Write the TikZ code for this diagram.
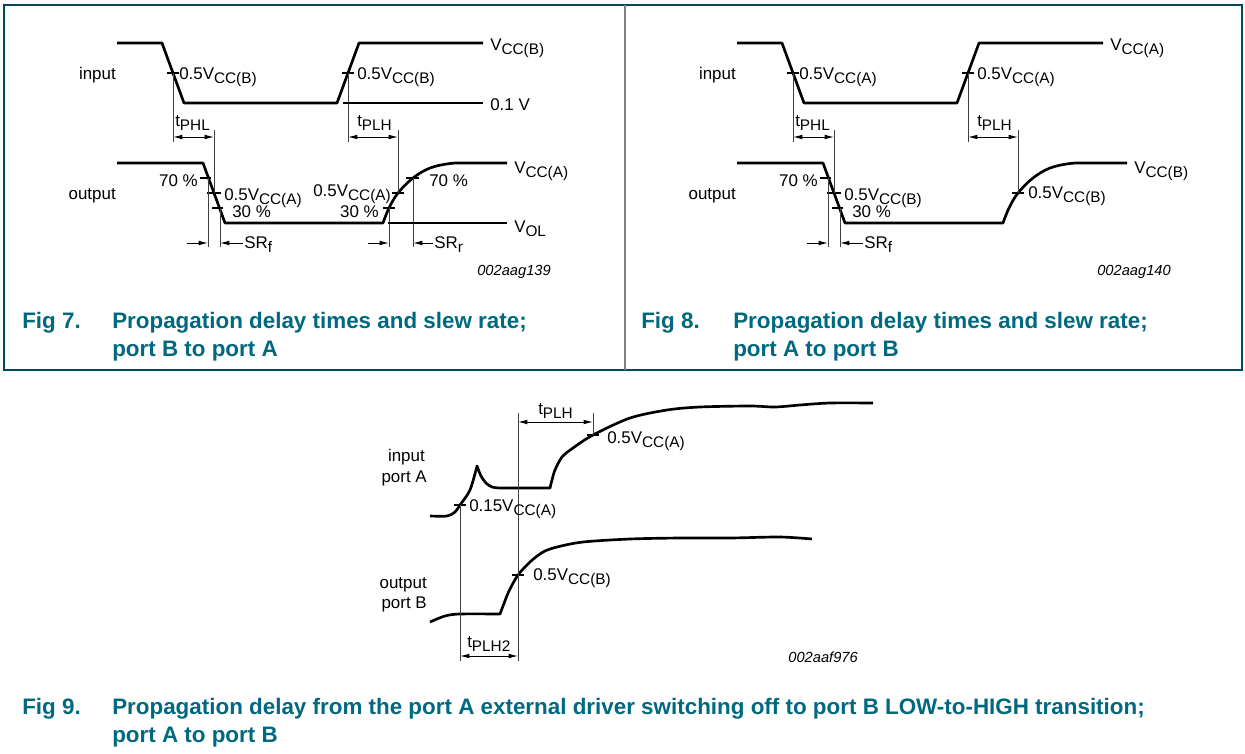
\documentclass[tikz,border=0pt]{standalone}
\usepackage{fontspec}
\setmainfont{Liberation Sans}
\usetikzlibrary{arrows.meta}
\definecolor{figteal}{HTML}{00697F}
\newcommand{\ssub}[2]{#1\raisebox{-3.2pt}{\fontsize{11.5}{12}\selectfont #2}}
\tikzset{
  wave/.style={line width=2pt,line join=round},
  refline/.style={line width=0.8pt},
  guide/.style={line width=0.7pt,black!75},
  dim/.style={line width=0.7pt},
  lbl/.style={inner sep=0pt,font=\fontsize{12.7}{15}\selectfont},
  figcode/.style={inner sep=0pt,font=\fontsize{11}{13}\selectfont\itshape},
  capt/.style={inner sep=0pt,text=figteal,font=\fontsize{16.8}{21}\selectfont\bfseries},
}

\begin{document}
\begin{tikzpicture}[x=0.75pt,y=-0.75pt,>={Latex[length=7pt,width=3.5pt]}]
  \useasboundingbox (0,0) rectangle (1245,753);
  % frames round fig 7 and fig 8
  \draw[figteal!70!black,line width=1.2pt] (4,5) rectangle (1242,370);
  \draw[gray,line width=0.8pt] (625,5) -- (625,370);

  % fig 7 and fig 8: same timing, swapped supplies
  \foreach \dx/\ia/\oa/\code in {0/B/A/002aag139,620/A/B/002aag140}{
  \begin{scope}[shift={(\dx,0)}]
    \draw[wave] (117,43) -- (162,43) -- (184,103) -- (337,103) -- (359,43) -- (483,43);
    \draw[wave] (117,163) -- (203,163) -- (225,223)
      -- plot[smooth,tension=0.6] coordinates {(383,223) (389,208) (398,193) (413,178) (430,168) (450,163.5) (465,163)}
      -- (507,163);
    % level ticks
    \draw[refline] (167,73) -- (179,73) (342,73) -- (354,73);
    \draw[refline] (200,178) -- (211,178) (207,193) -- (221,193) (212,208) -- (223,208);
    \draw[refline] (392,193) -- (404,193);
    % guides
    \draw[guide] (173,73) -- (173,142) (214,130) -- (214,193);
    \draw[guide] (348,73) -- (348,142) (398,130) -- (398,193);
    \draw[guide] (208,178) -- (208,247) (220,208) -- (220,247);
    \coordinate (phla\dx) at (173,137);
    \coordinate (phlb\dx) at (214,137);
    \coordinate (plha\dx) at (348,137);
    \coordinate (plhb\dx) at (398,137);
    \coordinate (srfa\dx) at (187,243);
    \coordinate (srfb\dx) at (208,243);
    \coordinate (srfc\dx) at (243,243);
    \coordinate (srfd\dx) at (220,243);
    \draw[dim,<->] (phla\dx) -- (phlb\dx);
    \draw[dim,<->] (plha\dx) -- (plhb\dx);
    \draw[dim,->] (srfa\dx) -- (srfb\dx);
    \draw[dim,->] (srfc\dx) -- (srfd\dx);
    % labels
    \node[lbl,anchor=base east] (in\dx) at (116,79) {input};
    \node[lbl,anchor=base east] (out\dx) at (116,199) {output};
    \node[lbl,anchor=base west] (infall\dx) at (179,79) {\ssub{0.5V}{CC(\ia)}};
    \node[lbl,anchor=base west] (inrise\dx) at (357,79) {\ssub{0.5V}{CC(\ia)}};
    \node[lbl,anchor=base west] (vin\dx) at (490,50) {\ssub{V}{CC(\ia)}};
    \node[lbl,anchor=base west] (tphl\dx) at (175,126) {\ssub{t}{PHL}};
    \node[lbl,anchor=base west] (tplh\dx) at (357,126) {\ssub{t}{PLH}};
    \node[lbl,anchor=base east] (fallhi\dx) at (198,186) {70 \%};
    \node[lbl,anchor=base west] (outfall\dx) at (224,200) {\ssub{0.5V}{CC(\oa)}};
    \node[lbl,anchor=base west] (falllo\dx) at (232,217) {30 \%};
    \node[lbl,anchor=base west] (srf\dx) at (244,248) {\ssub{SR}{f}};
    \node[lbl,anchor=base west] (vout\dx) at (514,173) {\ssub{V}{CC(\oa)}};
    \node[figcode,anchor=base east] (code\dx) at (551,275) {\code};
  \end{scope}
  }

  % fig 7 only: rising edge slew rate and reference levels
  \draw[refline] (383,208) -- (395,208) (406,178) -- (419,178);
  \draw[guide] (389,208) -- (389,247) (413,178) -- (413,247);
  \coordinate (srra) at (368,243);
  \coordinate (srrb) at (389,243);
  \coordinate (srrc) at (433,243);
  \coordinate (srrd) at (413,243);
  \draw[dim,->] (srra) -- (srrb);
  \draw[dim,->] (srrc) -- (srrd);
  \draw[refline] (343,103) -- (483,103);
  \draw[refline] (388,223) -- (507,223);
  \node[lbl,anchor=base west] (srr) at (434,248) {\ssub{SR}{r}};
  \node[lbl,anchor=base east] (outrise) at (391,196) {\ssub{0.5V}{CC(A)}};
  \node[lbl,anchor=base east] (riselo) at (379,217) {30 \%};
  \node[lbl,anchor=base west] (risehi) at (429,186) {70 \%};
  \node[lbl,anchor=base west] (lowin) at (490,110) {0.1 V};
  \node[lbl,anchor=base west] (vol) at (514,232) {\ssub{V}{OL}};

  % fig 8 only
  \node[lbl,anchor=base west] (outrise8) at (1028,198) {\ssub{0.5V}{CC(B)}};

  % fig 9
  \draw[wave] plot[smooth,tension=0.5] coordinates {(430,516) (447,516) (455,512) (460,505) (470,490) (477,466)}
    -- plot[smooth,tension=0.5] coordinates {(477,466) (481,476) (486,483) (492,487) (500,488)}
    -- (550,488)
    -- plot[smooth,tension=0.5] coordinates {(550,488) (552,480) (555,470) (562,457) (573,448) (593,435) (630,418)
       (667,410) (700,407) (750,406) (775,407) (800,405) (830,403) (873,403)};
  \draw[wave] plot[smooth,tension=0.5] coordinates {(430,622) (445,616) (460,614) (500,614)}
    -- plot[smooth,tension=0.5] coordinates {(500,614) (503,606) (509,591) (518,575) (530,562) (543,552) (557,547)
       (583,542) (630,539) (680,538) (730,538) (780,537) (812,539)};
  \draw[refline] (454,505) -- (466,505) (587,435) -- (599,435) (512,575) -- (524,575);
  \draw[guide] (460,505) -- (460,661) (518,413) -- (518,661) (593,413) -- (593,435);
  \coordinate (plh9a) at (518,422);
  \coordinate (plh9b) at (593,422);
  \coordinate (plh2a) at (460,656);
  \coordinate (plh2b) at (518,656);
  \draw[dim,<->] (plh9a) -- (plh9b);
  \draw[dim,<->] (plh2a) -- (plh2b);
  \node[lbl,anchor=base east] (inA) at (425,461) {input};
  \node[lbl,anchor=base east] (inAport) at (427,482) {port A};
  \node[lbl,anchor=base east] (outB) at (427,588) {output};
  \node[lbl,anchor=base east] (outBport) at (427,608) {port B};
  \node[lbl,anchor=base west] (low15) at (469,511) {\ssub{0.15V}{CC(A)}};
  \node[lbl,anchor=base west] (halfA) at (607,443) {\ssub{0.5V}{CC(A)}};
  \node[lbl,anchor=base west] (halfB) at (533,580) {\ssub{0.5V}{CC(B)}};
  \node[lbl,anchor=base west] (tplh9) at (538,414) {\ssub{t}{PLH}};
  \node[lbl,anchor=base west] (tplh2) at (467,647) {\ssub{t}{PLH2}};
  \node[figcode,anchor=base east] (code9) at (858,662) {002aaf976};

  % captions
  \node[capt,anchor=base west] (fig7) at (22,328) {Fig 7.};
  \node[capt,anchor=base west] (cap7a) at (112,328) {Propagation delay times and slew rate;};
  \node[capt,anchor=base west] (cap7b) at (112,356) {port B to port A};
  \node[capt,anchor=base west] (fig8) at (641,328) {Fig 8.};
  \node[capt,anchor=base west] (cap8a) at (733,328) {Propagation delay times and slew rate;};
  \node[capt,anchor=base west] (cap8b) at (733,356) {port A to port B};
  \node[capt,anchor=base west] (fig9) at (22,714) {Fig 9.};
  \node[capt,anchor=base west] (cap9a) at (112,714) {Propagation delay from the port A external driver switching off to port B LOW-to-HIGH transition;};
  \node[capt,anchor=base west] (cap9b) at (112,742) {port A to port B};
\end{tikzpicture}
\end{document}
